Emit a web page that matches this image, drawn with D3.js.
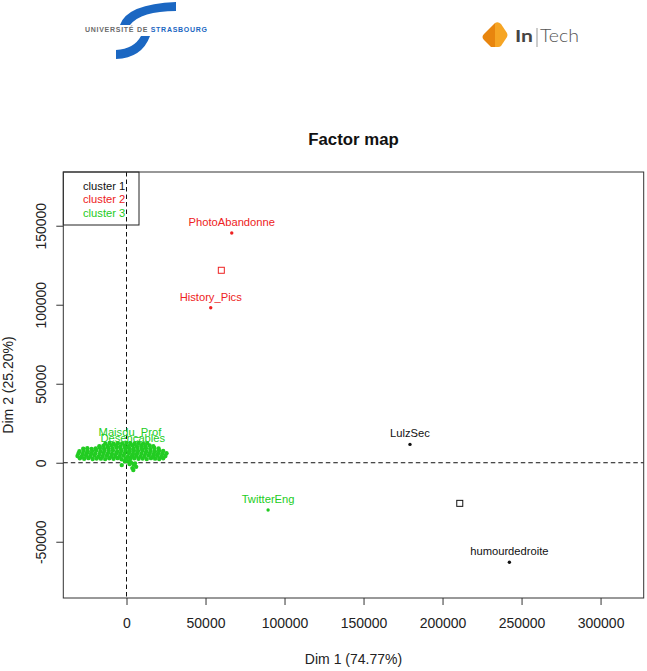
<!DOCTYPE html>
<html>
<head>
<meta charset="utf-8">
<script src="https://cdn.jsdelivr.net/npm/d3@7"></script>
<style>
  html, body { margin: 0; padding: 0; background: #fff; }
  svg { display: block; }
</style>
</head>
<body>
<figure id="chart" style="margin:0"></figure>
<script>
// values are in thousands (Dim 1 / Dim 2 coordinates / 1000)
const xTicks = [0, 50, 100, 150, 200, 250, 300];
const xTickLabels = ['0', '50000', '100000', '150000', '200000', '250000', '300000'];
const yTicks = [-50, 0, 50, 100, 150];
const yTickLabels = ['-50000', '0', '50000', '100000', '150000'];

const clusterNames = ['cluster 1', 'cluster 2', 'cluster 3'];
const clusterColors = ['#111111', '#ee2222', '#22cc22'];

// labelled individuals: [name, dim1, dim2, cluster index]
const labelled = [
  ['LulzSec', 179.4, 11.6, 0],
  ['humourdedroite', 242.3, -63.0, 0],
  ['PhotoAbandonne', 66.6, 145.4, 1],
  ['History_Pics', 53.3, 98.1, 1],
  ['TwitterEng', 89.6, -29.9, 2],
  ['Desencables', 4.0, 8.4, 2],
  ['Maisdu_Prof', 2.2, 12.8, 2]
];

// cluster centres
const centres = [
  [210.9, -25.7, 0],
  [60.0, 121.8, 1],
  [0.5, 5.5, 2]
];

// the dense cluster 3 cloud near the origin
const greenCloud = [
  [-29.5,2.8],[-26.8,2.5],[-24.1,2.9],[-21.4,2.4],[-18.9,2.7],[-16.2,2.6],[-13.5,2.3],[-10.9,2.8],[-8.2,2.5],[-5.6,2.9],[-3.1,2.2],[-0.4,2.6],[2.3,2.4],[4.9,2.8],[7.6,2.5],[10.2,2.7],[12.8,2.3],[15.5,2.9],[18.1,2.6],[20.7,2.4],[23.2,2.8],
  [-31.0,4.3],[-28.3,4.0],[-25.6,4.4],[-23.0,4.1],[-20.3,4.5],[-17.7,3.9],[-15.0,4.2],[-12.4,4.4],[-9.7,4.0],[-7.1,4.3],[-4.4,4.1],[-1.8,4.5],[0.9,3.8],[3.5,4.2],[6.2,4.4],[8.8,4.0],[11.5,4.3],[14.1,4.6],[16.8,4.1],[19.4,4.4],[22.0,4.0],[24.6,4.3],
  [-30.4,5.9],[-27.7,5.6],[-25.1,6.0],[-22.4,5.7],[-19.8,5.9],[-17.1,5.5],[-14.5,6.1],[-11.8,5.8],[-9.2,5.6],[-6.5,6.0],[-3.9,5.7],[-1.2,5.9],[1.4,6.2],[4.1,5.6],[6.7,5.9],[9.4,5.7],[12.0,6.1],[14.7,5.8],[17.3,5.5],[20.0,5.9],[22.6,5.7],[25.3,6.0],
  [-29.8,7.3],[-27.1,7.6],[-24.5,7.2],[-21.8,7.5],[-19.2,7.7],[-16.5,7.3],[-13.9,7.6],[-11.2,7.4],[-8.6,7.8],[-5.9,7.2],[-3.3,7.5],[-0.6,7.7],[2.0,7.3],[4.7,7.6],[7.3,7.4],[10.0,7.8],[12.6,7.2],[15.3,7.5],[17.9,7.3],[20.6,7.6],[23.2,7.4],
  [-27.4,8.9],[-24.8,9.2],[-22.1,8.8],[-19.5,9.1],[-16.8,9.4],[-14.2,8.9],[-11.5,9.2],[-8.9,9.0],[-6.2,9.5],[-3.6,8.8],[-0.9,9.3],[1.7,9.1],[4.4,8.9],[7.0,9.4],[9.7,9.0],[12.3,9.2],[15.0,8.8],[17.6,9.3],[20.3,9.0],
  [-17.2,10.5],[-14.6,10.8],[-11.9,10.4],[-9.3,10.9],[-6.6,10.6],[-4.0,10.3],[-1.3,10.8],[1.3,10.5],[4.0,10.9],[6.6,10.4],[9.3,10.7],[11.9,10.5],[14.6,10.9],[17.0,10.4],
  [-13.4,12.1],[-10.7,12.5],[-8.1,12.0],[-5.4,12.4],[-2.8,12.2],[-0.1,12.6],[2.5,12.0],[5.2,12.3],[7.8,12.5],[10.5,12.1],[13.1,12.4],
  [0.6,1.0],[2.8,0.2],[4.5,-1.2],[6.1,-2.6],[1.9,-0.8],[-1.0,0.9],[3.7,-3.4],[5.4,-0.4],[4.3,-4.6],[-3.0,-1.5]
];

const width = 647;
const height = 671;
const plot = {left: 63.3, right: 643.7, top: 172, bottom: 598};
const font = '"Liberation Sans", Arial, sans-serif';

const svg = d3.select('#chart')
  .append('svg')
  .attr('width', width)
  .attr('height', height)
  .style('background', '#fff');

// ---- logos ----
const uni = svg.append('g');
uni.append('path')
  .attr('d', 'M120,25 Q127,4 176,2 L176,11 Q141,11 130,25 Z')
  .attr('fill', '#1b67c2');
uni.append('path')
  .attr('d', 'M150,36 Q142,58 116,59 L116,50 Q134,49 141,36 Z')
  .attr('fill', '#1b67c2');
const uniText = uni.append('text')
  .attr('x', 85).attr('y', 32)
  .attr('font-family', font).attr('font-weight', 'bold').attr('font-size', 7)
  .attr('textLength', 122).attr('lengthAdjust', 'spacing');
uniText.append('tspan').attr('fill', '#6b6b6b').text('UNIVERSITÉ DE ');
uniText.append('tspan').attr('fill', '#1b67c2').text('STRASBOURG');

const intech = svg.append('g');
intech.append('path')
  .attr('d', 'M495,23 L484,34 Q481,37 484,40 L491,47 L495,47 Z')
  .attr('fill', '#e8850e');
intech.append('path')
  .attr('d', 'M495,23 Q498,21 501,24 L507,33 Q508,35 507,37 L501,46 Q500,47 498,47 L495,47 Z')
  .attr('fill', '#f6a524');
intech.append('text')
  .attr('x', 515).attr('y', 42)
  .attr('font-family', 'Lato, sans-serif').attr('font-weight', 'bold').attr('font-size', 17)
  .attr('fill', '#444').attr('textLength', 18).attr('lengthAdjust', 'spacingAndGlyphs')
  .text('In');
intech.append('line')
  .attr('x1', 537).attr('x2', 537).attr('y1', 28).attr('y2', 47)
  .attr('stroke', '#999').attr('stroke-width', 1);
intech.append('text')
  .attr('x', 540).attr('y', 42)
  .attr('font-family', 'Lato, sans-serif').attr('font-weight', 300).attr('font-size', 17)
  .attr('fill', '#555').attr('textLength', 39).attr('lengthAdjust', 'spacingAndGlyphs')
  .text('Tech');

// ---- scales (asp = 1) ----
const x = d3.scaleLinear().domain([-40.0, 327.3]).range([plot.left, plot.right]);
const y = d3.scaleLinear().domain([-85.6, 184.0]).range([plot.bottom, plot.top]);

// title
svg.append('text')
  .attr('x', (plot.left + plot.right) / 2).attr('y', 145)
  .attr('text-anchor', 'middle')
  .attr('font-family', font).attr('font-weight', 'bold').attr('font-size', 16.8)
  .attr('fill', '#111')
  .text('Factor map');

// axes
const xAxis = svg.append('g')
  .attr('transform', 'translate(0,' + plot.bottom + ')')
  .call(d3.axisBottom(x).tickValues(xTicks).tickSize(7).tickPadding(13)
    .tickFormat((d, i) => xTickLabels[i]));
xAxis.select('.domain').remove();
xAxis.selectAll('line').attr('stroke', '#333');
xAxis.selectAll('text').attr('font-family', font).attr('font-size', 14).attr('fill', '#222');

const yAxis = svg.append('g')
  .attr('transform', 'translate(' + plot.left + ',0)')
  .call(d3.axisLeft(y).tickValues(yTicks).tickSize(7).tickFormat(''));
yAxis.select('.domain').remove();
yAxis.selectAll('line').attr('stroke', '#333');
yAxis.selectAll('.tick').append('text')
  .attr('transform', 'translate(-17,0) rotate(-90)')
  .attr('text-anchor', 'middle')
  .attr('font-family', font).attr('font-size', 14).attr('fill', '#222')
  .text((d, i) => yTickLabels[i]);

svg.append('text')
  .attr('x', (plot.left + plot.right) / 2).attr('y', 664)
  .attr('text-anchor', 'middle')
  .attr('font-family', font).attr('font-size', 14).attr('fill', '#222')
  .text('Dim 1 (74.77%)');
svg.append('text')
  .attr('transform', 'translate(13,' + (plot.top + plot.bottom) / 2 + ') rotate(-90)')
  .attr('text-anchor', 'middle')
  .attr('font-family', font).attr('font-size', 14).attr('fill', '#222')
  .text('Dim 2 (25.20%)');

// dashed reference lines
svg.append('line')
  .attr('x1', plot.left).attr('x2', plot.right).attr('y1', y(0)).attr('y2', y(0))
  .attr('stroke', '#111').attr('stroke-dasharray', '4.5,3');
svg.append('line')
  .attr('x1', x(0)).attr('x2', x(0)).attr('y1', plot.top).attr('y2', plot.bottom)
  .attr('stroke', '#111').attr('stroke-dasharray', '4.5,3');

// cluster 3 cloud
svg.append('g').selectAll('circle')
  .data(greenCloud)
  .join('circle')
  .attr('cx', d => x(d[0]))
  .attr('cy', d => y(d[1]))
  .attr('r', 2.2)
  .attr('fill', clusterColors[2]);

// labelled points
svg.append('g').selectAll('circle')
  .data(labelled)
  .join('circle')
  .attr('cx', d => x(d[1]))
  .attr('cy', d => y(d[2]))
  .attr('r', 1.7)
  .attr('fill', d => clusterColors[d[3]]);

svg.append('g').selectAll('text')
  .data(labelled)
  .join('text')
  .attr('x', d => x(d[1]))
  .attr('y', d => y(d[2]) - 7)
  .attr('text-anchor', 'middle')
  .attr('font-family', font).attr('font-size', 11.2)
  .attr('fill', d => clusterColors[d[3]])
  .text(d => d[0]);

// cluster centres
svg.append('g').selectAll('rect')
  .data(centres)
  .join('rect')
  .attr('x', d => x(d[0]) - 3)
  .attr('y', d => y(d[1]) - 3)
  .attr('width', 6).attr('height', 6)
  .attr('fill', 'none')
  .attr('stroke', d => clusterColors[d[2]])
  .attr('stroke-width', 1);

// legend
svg.append('rect')
  .attr('x', plot.left).attr('y', plot.top)
  .attr('width', 139 - plot.left).attr('height', 225 - plot.top)
  .attr('fill', 'none').attr('stroke', '#222');
svg.append('g').selectAll('text')
  .data(clusterNames)
  .join('text')
  .attr('x', 83)
  .attr('y', (d, i) => 190 + i * 13.4)
  .attr('font-family', font).attr('font-size', 11.2)
  .attr('fill', (d, i) => clusterColors[i])
  .text(d => d);

// box
svg.append('rect')
  .attr('x', plot.left).attr('y', plot.top)
  .attr('width', plot.right - plot.left).attr('height', plot.bottom - plot.top)
  .attr('fill', 'none').attr('stroke', '#333').attr('stroke-width', 1);
</script>
</body>
</html>
